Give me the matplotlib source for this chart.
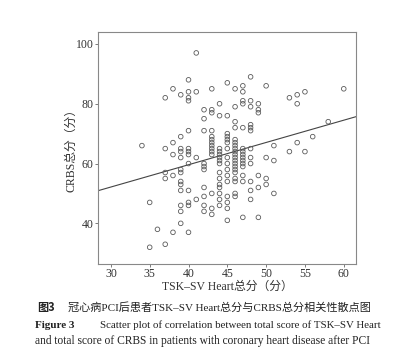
import matplotlib
matplotlib.use('Agg')
import matplotlib.pyplot as plt

# TSK-SV Heart total score -> CRBS total scores
tsk_cols = [34, 35, 36, 37, 38, 39, 40, 41, 42, 43, 44, 45, 46, 47, 48, 49, 50, 51, 53, 54, 55, 56, 58, 60]
crbs_cols = [
    [66],
    [47, 32],
    [38],
    [82, 65, 57, 55, 33],
    [85, 67, 63, 56, 37],
    [83, 69, 65, 64, 62, 58, 57, 54, 53, 51, 46, 44, 40],
    [88, 84, 82, 81, 71, 65, 64, 63, 60, 51, 47, 46, 37],
    [97, 84, 62, 48],
    [78, 75, 71, 60, 59, 58, 52, 49, 46, 44],
    [85, 78, 77, 71, 69, 68, 67, 66, 65, 64, 63, 50, 45, 43],
    [80, 76, 65, 64, 63, 62, 61, 60, 57, 55, 53, 52, 50, 48, 46],
    [87, 76, 70, 69, 68, 67, 65, 62, 60, 58, 56, 54, 49, 47, 45, 41],
    [85, 79, 74, 72, 68, 67, 66, 65, 64, 63, 62, 61, 60, 59, 58, 57, 55, 54, 50, 49],
    [86, 84, 81, 80, 72, 65, 64, 63, 62, 61, 60, 59, 56, 54, 42],
    [89, 81, 79, 73, 72, 71, 65, 62, 60, 54, 51, 48],
    [80, 78, 77, 56, 52, 42],
    [86, 62, 55, 53],
    [66, 61, 50],
    [82, 64],
    [83, 80, 67],
    [84, 64],
    [69],
    [74],
    [85],
]
fit_slope = 0.745
fit_intercept = 29.8

xticks = [30, 35, 40, 45, 50, 55, 60]
yticks = [40, 60, 80, 100]

x = []
y = []
for tx, vals in zip(tsk_cols, crbs_cols):
    for v in vals:
        x.append(tx)
        y.append(v)

serif = ['Liberation Serif', 'Noto Sans CJK SC']

fig = plt.figure(figsize=(4.02, 3.63), dpi=100)
ax = fig.add_axes([0.243, 0.2727, 0.643, 0.64])

ax.scatter(x, y, s=11, facecolors='none', edgecolors='#5a5a5a', linewidths=0.6, zorder=3)

xlim = (28.3, 61.6)
ax.plot(xlim, [fit_intercept + fit_slope * v for v in xlim], color='#444444', lw=0.8)

ax.set_xlim(*xlim)
ax.set_ylim(26.4, 104.1)
ax.set_xticks(xticks)
ax.set_yticks(yticks)
for sp in ax.spines.values():
    sp.set_color('#888888')
    sp.set_linewidth(0.8)
ax.tick_params(length=2, width=0.6, color='#666666', labelsize=8.5, labelcolor='#333333', pad=1)
for lab in ax.get_xticklabels() + ax.get_yticklabels():
    lab.set_family(serif)

ax.set_xlabel('TSK–SV Heart总分（分）', family=serif, fontsize=8.5, color='#333333', va='center')
ax.set_ylabel('CRBS总分（分）', family=serif, fontsize=8.5, color='#333333', va='center')
ax.xaxis.set_label_coords(0.5, -0.097)
ax.yaxis.set_label_coords(-0.1, 0.5)

# caption
fig.text(37 / 402, 1 - 307 / 363, '图3', family=['Noto Sans CJK SC'], weight='bold',
         fontsize=8, color='#222222', va='center')
fig.text(68 / 402, 1 - 307 / 363, '冠心病PCI后患者TSK–SV Heart总分与CRBS总分相关性散点图',
         family=serif, fontsize=8, color='#222222', va='center')
fig.text(35 / 402, 1 - 325 / 363, 'Figure 3', family=serif, weight='bold',
         fontsize=8, color='#222222', va='center')
fig.text(100 / 402, 1 - 325 / 363, 'Scatter plot of correlation between total score of TSK–SV Heart',
         family=serif, fontsize=7.85, color='#222222', va='center')
fig.text(35 / 402, 1 - 341 / 363, 'and total score of CRBS in patients with coronary heart disease after PCI',
         family=serif, fontsize=8.3, color='#222222', va='center')

fig.savefig('out.png', dpi=100)
